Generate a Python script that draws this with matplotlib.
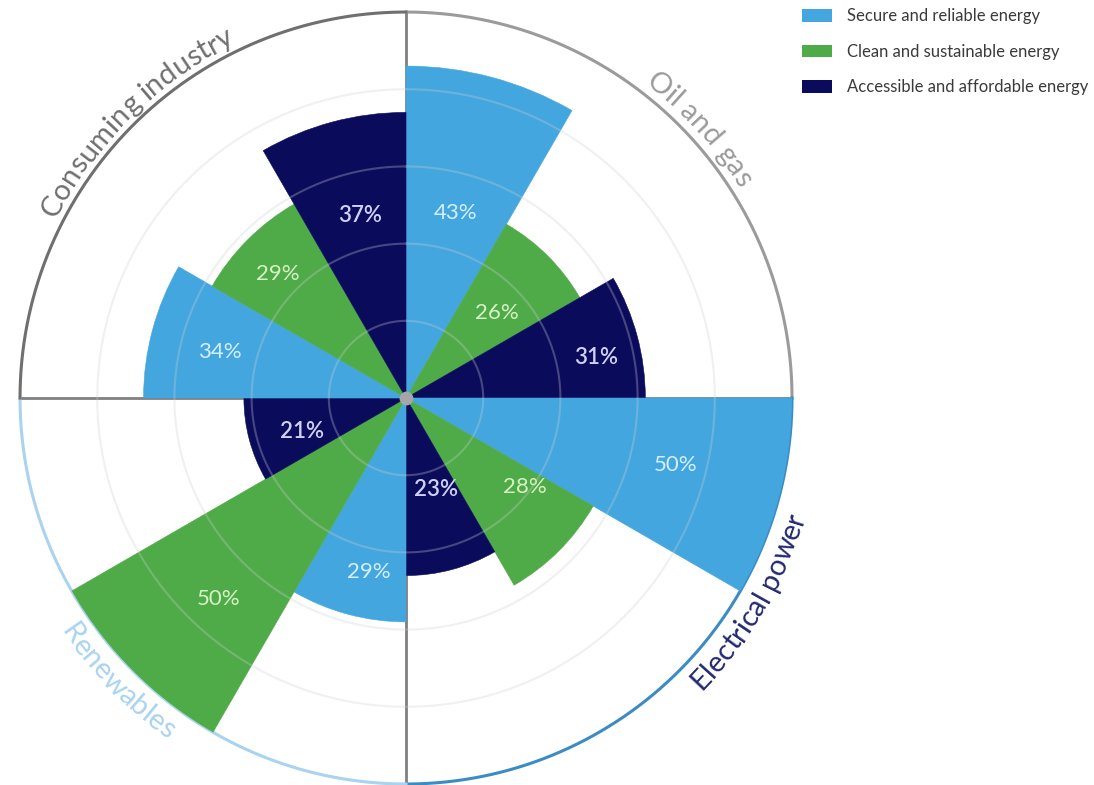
import matplotlib
matplotlib.use("Agg")
import matplotlib.pyplot as plt
import numpy as np
from matplotlib.font_manager import FontProperties
from matplotlib.textpath import TextToPath
from matplotlib.patches import Patch

sectors = ["Oil and gas", "Electrical power", "Renewables", "Consuming industry"]
series = ["Secure and reliable energy", "Clean and sustainable energy",
          "Accessible and affordable energy"]
# share (%) per sector, sectors in the order above
secure = [43, 50, 29, 34]
clean = [26, 28, 50, 29]
accessible = [31, 23, 21, 37]

colors = ["#44a6de", "#4fab48", "#0b0b5c"]
label_colors = ["#d4effb", "#d6f3c6", "#cfd0f3"]
sector_colors = ["#9b9b9b", "#3b8cc4", "#a9d3ef", "#6f6f6f"]
sector_text_colors = ["#9b9b9b", "#232a6e", "#a9d3ef", "#6f6f6f"]

# where the % labels sit (degrees clockwise from north, radius in data units)
label_theta = [15, 47, 78, 104, 127, 162, 192, 223, 252, 284, 314, 346]
label_r = [24.8, 16.1, 25.2, 36, 19.2, 12.5, 23.1, 35.6, 14.1, 24.9, 23.1, 24.4]
# sector titles: centre angle, radius of baseline, tops pointing outwards?
title_theta = [47.5, 120.6, 225.5, 315.7]
title_r = [51.0, 53.9, 54.0, 51.0]
title_out = [True, False, False, True]

RMAX = 50
FONT = "Lato"

fig = plt.figure(figsize=(10.94, 7.85), dpi=100)
ax = fig.add_axes([0.01828, 0.00127, 0.7057, 0.9834], projection="polar")
ax.set_theta_zero_location("N")
ax.set_theta_direction(-1)
ax.set_ylim(0, RMAX)
ax.set_xticks([])
ax.set_yticks([])
ax.grid(False)
ax.spines["polar"].set_visible(False)
ax.set_facecolor("white")

px_per_unit = fig.get_figwidth() * fig.dpi * 0.7057 / 2 / RMAX

# quadrant dividers
for a in (0, 90, 180, 270):
    ax.plot([np.radians(a), np.radians(a)], [0, RMAX], color="#808080", lw=2, zorder=1)

# outer rim, one colour per sector
for k in range(4):
    th = np.radians(np.linspace(90 * k, 90 * k + 90, 200))
    ax.plot(th, np.full_like(th, RMAX), color=sector_colors[k], lw=2.2, zorder=2,
            clip_on=False)

# bars
values = [secure, clean, accessible]
i = 0
for k in range(4):
    for j in range(3):
        v = values[j][k]
        th = np.radians(90 * k + 30 * j + 15)
        ax.bar(th, v, width=np.radians(30), bottom=0, color=colors[j],
               edgecolor=colors[j], linewidth=0.4, zorder=3)
        ax.text(np.radians(label_theta[i]), label_r[i], f"{v}%", ha="center",
                va="center", color=label_colors[j], fontsize=16, family=FONT,
                fontweight="semibold" if j == 2 else "normal", zorder=6)
        i += 1

# faint rings on top of the bars
t = np.linspace(0, 2 * np.pi, 400)
for r in (10, 20, 30, 40):
    ax.plot(t, np.full_like(t, r), color="#cfcfd6", lw=1.5, alpha=0.3, zorder=4)

ax.scatter([0], [0], s=80, color="#a6a6a6", zorder=7)


def arc_text(text, center_deg, r, color, size, top_out):
    prop = FontProperties(family=FONT, size=size)
    ttp = TextToPath()
    k = fig.dpi / 72
    w = [0.0] + [ttp.get_text_width_height_descent(text[:n], prop, ismath=False)[0] * k
                 for n in range(1, len(text) + 1)]
    total = w[-1]
    r_px = r * px_per_unit
    sign = 1 if top_out else -1
    for n, ch in enumerate(text):
        if ch == " ":
            continue
        mid = (w[n] + w[n + 1]) / 2 - total / 2
        th = center_deg + sign * np.degrees(mid / r_px)
        rot = -th if top_out else 180 - th
        ax.text(np.radians(th), r, ch, rotation=rot, rotation_mode="anchor",
                ha="center", va="baseline", color=color, fontproperties=prop,
                clip_on=False, zorder=8)


for k in range(4):
    arc_text(sectors[k], title_theta[k], title_r[k], sector_text_colors[k], 21,
             title_out[k])

handles = [Patch(facecolor=c, edgecolor="none") for c in colors]
fig.legend(handles, series, loc="upper left", bbox_to_anchor=(0.727, 0.998),
           frameon=False, borderaxespad=0, handlelength=1.8, handleheight=0.75,
           handletextpad=0.9, labelspacing=1.17, labelcolor="#3a3a3a",
           prop=FontProperties(family=FONT, size=12))

fig.savefig("out.png", dpi=100, facecolor="white")
